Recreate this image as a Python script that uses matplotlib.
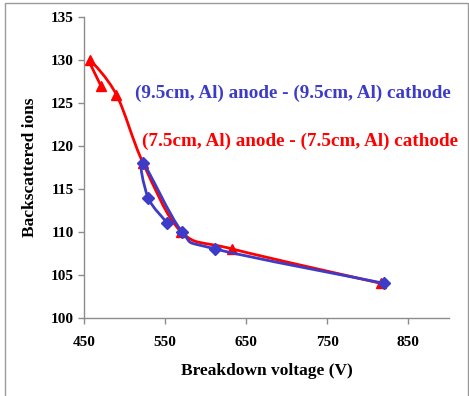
import numpy as np
import matplotlib.pyplot as plt
from matplotlib.path import Path
from matplotlib.patches import PathPatch, Rectangle

# (7.5cm, Al) anode - (7.5cm, Al) cathode
red_v = [471, 457, 490, 523, 570, 633, 816]
red_ions = [127, 130, 126, 118, 110, 108, 104]

# (9.5cm, Al) anode - (9.5cm, Al) cathode
blue_v = [553, 529, 523, 571, 612, 820]
blue_ions = [111, 114, 118, 110, 108, 104]

xticks = [450, 550, 650, 750, 850]
yticks = [100, 105, 110, 115, 120, 125, 130, 135]

RED = '#FF0000'
BLUE = '#3C3CC8'


def smooth_path(xs, ys):
    # cubic bezier through the points (catmull-rom style, like a spreadsheet smoothed line)
    p = np.column_stack([xs, ys]).astype(float)
    ext = np.vstack([p[0], p, p[-1]])
    verts = [p[0]]
    codes = [Path.MOVETO]
    for i in range(len(p) - 1):
        p0, p1, p2, p3 = ext[i], ext[i + 1], ext[i + 2], ext[i + 3]
        verts += [p1 + (p2 - p0) / 6, p2 - (p3 - p1) / 6, p2]
        codes += [Path.CURVE4] * 3
    return Path(verts, codes)


plt.rcParams['font.family'] = ['Liberation Serif', 'DejaVu Serif']
plt.rcParams['font.weight'] = 'bold'

fig = plt.figure(figsize=(4.69, 3.96), dpi=100)
ax = fig.add_axes([0.179, 0.198, 0.778, 0.758])

ax.add_patch(PathPatch(smooth_path(red_v, red_ions), fill=False, ec=RED, lw=2, zorder=3))
ax.plot(red_v, red_ions, ls='none', marker='^', ms=7, color=RED, zorder=4)

ax.add_patch(PathPatch(smooth_path(blue_v, blue_ions), fill=False, ec=BLUE, lw=2, zorder=5))
ax.plot(blue_v, blue_ions, ls='none', marker='D', ms=6, color=BLUE, zorder=6)

ax.set_xlim(450, 900)
ax.set_ylim(100, 135)
ax.set_xticks(xticks)
ax.set_yticks(yticks)
for s in ['top', 'right']:
    ax.spines[s].set_visible(False)
for s in ['left', 'bottom']:
    ax.spines[s].set_color('#8C8C8C')
    ax.spines[s].set_linewidth(1)
ax.tick_params(colors='#8C8C8C', length=4, width=1, labelcolor='black', labelsize=11)
ax.tick_params(axis='x', pad=9)
for lbl in ax.get_xticklabels() + ax.get_yticklabels():
    lbl.set_fontweight('bold')

ax.set_xlabel('Breakdown voltage (V)', fontsize=12.5, fontweight='bold', labelpad=10)
ax.set_ylabel('Backscattered ions', fontsize=12.5, fontweight='bold', labelpad=9)

fig.text(135 / 469, 1 - 93 / 396, '(9.5cm, Al) anode - (9.5cm, Al) cathode',
         color=BLUE, fontsize=13.8, fontweight='bold', va='center', ha='left')
fig.text(142 / 469, 1 - 141 / 396, '(7.5cm, Al) anode - (7.5cm, Al) cathode',
         color=RED, fontsize=13.8, fontweight='bold', va='center', ha='left')

# chart frame
fig.patches.append(Rectangle((5 / 469, -0.01), 463 / 469, 1 - 3 / 396 + 0.01,
                             transform=fig.transFigure, fill=False,
                             ec='#9A9A9A', lw=1))

fig.savefig('out.png', dpi=100)
